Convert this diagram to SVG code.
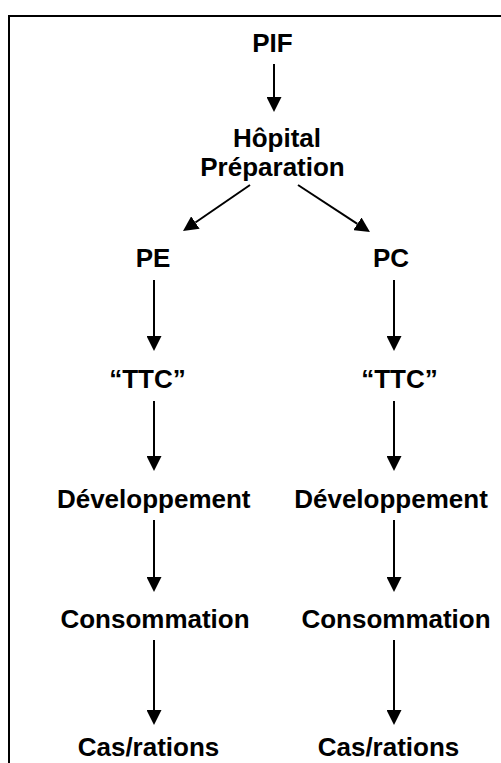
<svg xmlns="http://www.w3.org/2000/svg" width="501" height="763" viewBox="0 0 501 763">
  <style>
    .lbl { font-family: "Liberation Sans", Arial, sans-serif; font-weight: bold; font-size: 26px; fill: #000; text-anchor: middle; }
    .edge { stroke: #000; stroke-width: 2; fill: none; marker-end: url(#head); }
    .frame { stroke: #000; stroke-width: 2; fill: none; }
  </style>
  <defs>
    <marker id="head" markerUnits="userSpaceOnUse" markerWidth="15" markerHeight="15" refX="0" refY="7.5" orient="auto">
      <path d="M0,0 L15,7.5 L0,15 z" fill="#000"/>
    </marker>
  </defs>
  <rect width="501" height="763" fill="#fff"/>
  <!-- open frame: top and left edges only -->
  <path class="frame" d="M9,763 L9,16 L501,16"/>

  <g id="connectors">
    <line class="edge" x1="274" y1="64" x2="274" y2="97"/>
    <line class="edge" x1="250" y1="185" x2="195.4" y2="222.5"/>
    <line class="edge" x1="298" y1="185" x2="357.4" y2="223.8"/>
    <line class="edge" x1="154" y1="280" x2="154" y2="336"/>
    <line class="edge" x1="394" y1="280" x2="394" y2="336"/>
    <line class="edge" x1="154" y1="401" x2="154" y2="456"/>
    <line class="edge" x1="394" y1="401" x2="394" y2="456"/>
    <line class="edge" x1="154" y1="520" x2="154" y2="577"/>
    <line class="edge" x1="394" y1="520" x2="394" y2="577"/>
    <line class="edge" x1="154" y1="640" x2="154" y2="710"/>
    <line class="edge" x1="394" y1="640" x2="394" y2="710"/>
  </g>

  <g id="pif"><text class="lbl" x="272.5" y="52">PIF</text></g>
  <g id="hopital">
    <text class="lbl" x="277" y="147">Hôpital</text>
    <text class="lbl" x="272.5" y="176">Préparation</text>
  </g>
  <g id="pe"><text class="lbl" x="153" y="267">PE</text></g>
  <g id="pc"><text class="lbl" x="391" y="267">PC</text></g>
  <g id="ttc-left"><text class="lbl" x="147.5" y="388">“TTC”</text></g>
  <g id="ttc-right"><text class="lbl" x="399.5" y="388">“TTC”</text></g>
  <g id="dev-left"><text class="lbl" x="153.7" y="508">Développement</text></g>
  <g id="dev-right"><text class="lbl" x="391" y="508">Développement</text></g>
  <g id="cons-left"><text class="lbl" x="155" y="628">Consommation</text></g>
  <g id="cons-right"><text class="lbl" x="396" y="628">Consommation</text></g>
  <g id="cas-left"><text class="lbl" x="148.5" y="756">Cas/rations</text></g>
  <g id="cas-right"><text class="lbl" x="388.5" y="756">Cas/rations</text></g>
</svg>
